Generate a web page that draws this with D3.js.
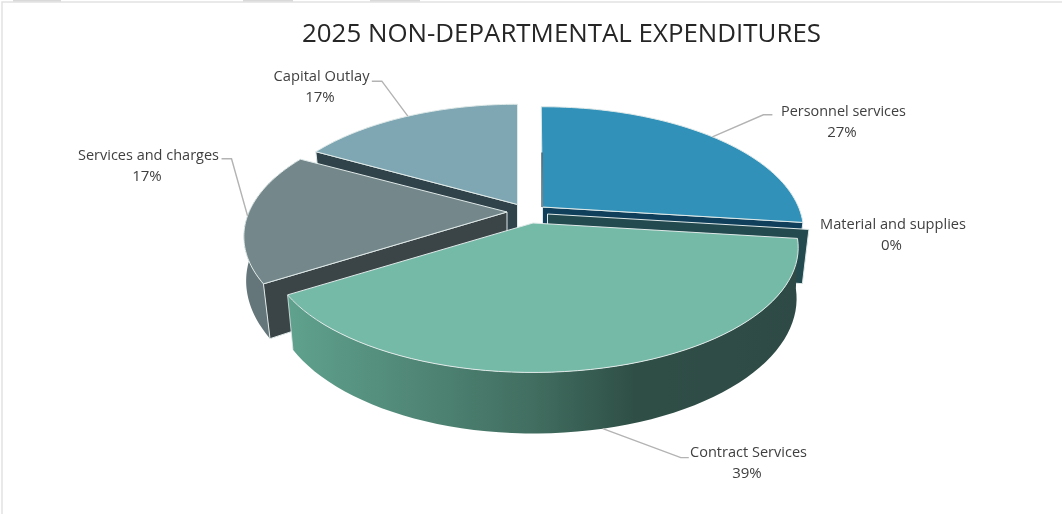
<!DOCTYPE html>
<html><head><meta charset="utf-8">
<script src="https://cdn.jsdelivr.net/npm/d3@7"></script>
<style>
html,body{margin:0;padding:0;background:#fff;overflow:hidden}
svg{display:block;filter:blur(0.45px)}
text{font-family:"Open Sans",sans-serif;fill:#404040}
</style></head><body>
<svg id="c" width="1062" height="514"></svg>
<script>
const titleText = "2025 NON-DEPARTMENTAL EXPENDITURES";
const categories = ["Personnel services","Material and supplies","Contract Services","Services and charges","Capital Outlay"];
const shares = [27,0,39,17,17];
const topColors = ["#3191b9","#1f6f80","#74baa6","#74878a","#7fa7b3"];
const wallColors = ["#0f3f5a","#234a4f","#2f4a45","#3b4548","#30434a"];

const W=1062,H=514;
const svg=d3.select("#c");

// 3D pie geometry
const Ry=120, persp=0.197, depth=49;
const geom={
  "Personnel services":   {apex:[542.5,207],rx:256,d:1,   shr:()=>0.025},
  "Material and supplies":{apex:[547.5,214],rx:257,d:1.08,shr:()=>0.025},
  "Contract Services":    {apex:[533,223],  rx:260,d:1,   shr:a=>Math.sin(a)>0?0.006:0.022},
  "Services and charges": {apex:[507,212],  rx:258,d:1,   shr:a=>0.027*Math.max(0,-Math.cos(a))/0.536},
  "Capital Outlay":       {apex:[517.5,204.5],rx:252,d:1, shr:()=>0.025}
};

const slices=d3.pie().sort(null).value(d=>d.v).startAngle(0).endAngle(2*Math.PI)(categories.map((c,i)=>({c,v:shares[i],i})));
const byName=Object.fromEntries(slices.map(s=>[s.data.c,s]));

function proj(name,a,r=1,h=0){
  const g=geom[name],[ax,ay]=g.apex;
  const s=1/(1+persp*r*Math.cos(a));
  const X=g.rx*r*Math.sin(a)*s, Y=-Ry*r*Math.cos(a)*s;
  return [ax+X*(1-g.shr(a)*h), ay+Y+h*depth*g.d*s];
}
const line=d3.line();
const arcPts=(name,a0,a1,h=0)=>d3.range(0,61).map(i=>proj(name,a0+(a1-a0)*i/60,1,h));
const EDGE="#dfe9e8";

function topFace(name,color,lead=0){
  const s=byName[name];
  const pts=[proj(name,0,0),...arcPts(name,s.startAngle-lead,s.endAngle)];
  svg.append("path").attr("d",line(pts)+"Z").attr("fill",color).attr("stroke",EDGE).attr("stroke-width",1).attr("stroke-linejoin","round");
}
function wall(name,a,color){
  const pts=[proj(name,a,0,0),proj(name,a,1,0),proj(name,a,1,1),proj(name,a,0,1)];
  svg.append("path").attr("d",line(pts)+"Z").attr("fill",color).attr("stroke",EDGE).attr("stroke-width",1);
}
function outer(name,a0,a1,fill){
  const p=[...arcPts(name,a0,a1,0),...arcPts(name,a0,a1,1).reverse()];
  svg.append("path").attr("d",line(p)+"Z").attr("fill",fill).attr("stroke","none");
}

// gradient on the rim of the largest slice
const x0=287,x1=798;
const grad=svg.append("defs").append("linearGradient").attr("id","rim").attr("gradientUnits","userSpaceOnUse")
  .attr("x1",x0).attr("x2",x1).attr("y1",0).attr("y2",0);
[[0,"#5fa28d"],[0.22,"#528a79"],[0.48,"#416e60"],[0.68,"#2f4f46"],[1,"#2f4a46"]]
  .forEach(([o,c])=>grad.append("stop").attr("offset",o).attr("stop-color",c));

// frame of the screenshot
svg.append("rect").attr("x",2).attr("y",2).attr("width",W).attr("height",H).attr("fill","none").attr("stroke","#e2e2e2").attr("stroke-width",1.5);
[[13,48],[243,50],[370,50]].forEach(([x,w])=>svg.append("rect").attr("x",x).attr("y",0).attr("width",w).attr("height",1.5).attr("fill","#d9d9d9"));

// Capital outlay (back left)
const cap=byName["Capital Outlay"];
wall("Capital Outlay",cap.startAngle,wallColors[4]);
topFace("Capital Outlay",topColors[4]);

// Services and charges
const srv=byName["Services and charges"];
outer("Services and charges",srv.startAngle,srv.endAngle,"#64767a");
wall("Services and charges",srv.startAngle,wallColors[3]);
topFace("Services and charges",topColors[3]);

// Personnel services
const per=byName["Personnel services"];
wall("Personnel services",per.endAngle,wallColors[0]);
topFace("Personnel services",topColors[0],0.006);
svg.append("path").attr("d",line([proj("Personnel services",0,0.5),proj("Personnel services",0,0)]))
  .attr("stroke","#3f5560").attr("stroke-width",1.3).attr("fill","none").attr("transform","translate(-0.5,0)");

// Material and supplies (zero-size slice: only its wall shows)
const mat=byName["Material and supplies"];
wall("Material and supplies",mat.startAngle,wallColors[1]);

// Contract services (front)
const con=byName["Contract Services"];
outer("Contract Services",con.startAngle,con.endAngle,"url(#rim)");
svg.append("path").attr("d",line([proj("Contract Services",con.endAngle,1,0),proj("Contract Services",con.endAngle,1,1)]))
  .attr("stroke",EDGE).attr("stroke-width",0.8);
topFace("Contract Services",topColors[2]);

// leaders: start from each slice's mid-angle on its rim
const leaderElbows={ "Personnel services":[[51,-22],[60,-22]], "Contract Services":[[78,29],[86,29]],
                     "Services and charges":[[-16,-57],[-26,-57]], "Capital Outlay":[[-26,-35],[-36,-35]] };
const leaderBase={ "Contract Services":1 };
Object.entries(leaderElbows).forEach(([name,off])=>{
  const s=byName[name], m=(s.startAngle+s.endAngle)/2;
  const p=proj(name,m,1,leaderBase[name]||0);
  svg.append("path").attr("d",line([p,...off.map(o=>[p[0]+o[0],p[1]+o[1]])])).attr("fill","none").attr("stroke","#b3b3b3").attr("stroke-width",1.4);
});

// text
svg.append("text").attr("x",561.5).attr("y",42).attr("text-anchor","middle").attr("font-size",25.5)
  .attr("textLength",519).attr("lengthAdjust","spacingAndGlyphs").style("fill","#262626").text(titleText);

const labelLayout={ "Personnel services":[843.5,116,125], "Material and supplies":[893,229,146],
                    "Contract Services":[748.5,457,117], "Services and charges":[148.5,160,141], "Capital Outlay":[321.5,81,96] };
slices.forEach(s=>{
  const [x,y,len]=labelLayout[s.data.c];
  svg.append("text").attr("x",x).attr("y",y).attr("text-anchor","middle").attr("font-size",15)
    .attr("textLength",len).attr("lengthAdjust","spacingAndGlyphs").text(s.data.c);
  svg.append("text").attr("x",x-1.5).attr("y",y+21).attr("text-anchor","middle").attr("font-size",15).text(s.data.v+"%");
});
</script>
</body></html>
